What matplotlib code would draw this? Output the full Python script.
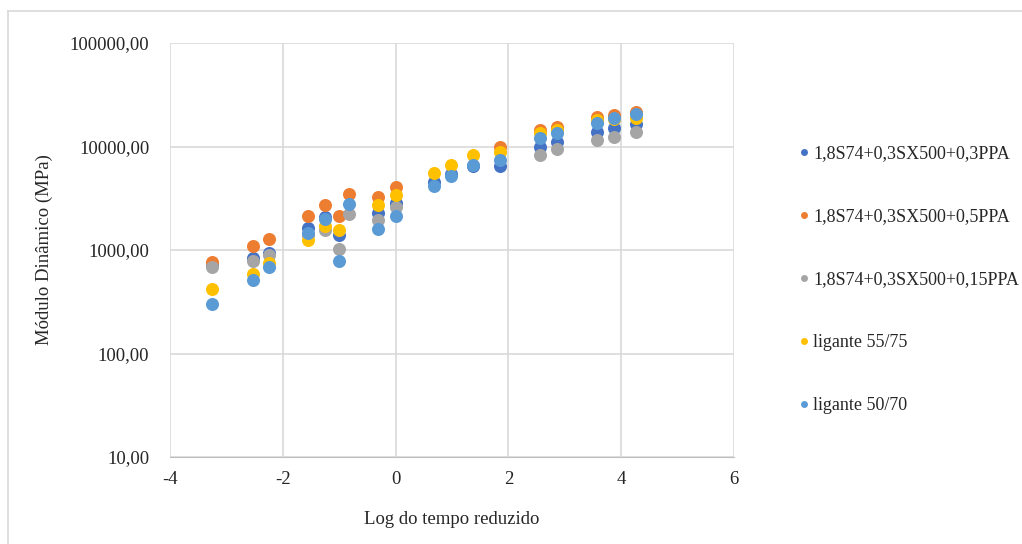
import numpy as np
import matplotlib
matplotlib.use('Agg')
import matplotlib.pyplot as plt
from matplotlib.lines import Line2D

plt.rcParams['font.family'] = ['Liberation Serif', 'DejaVu Serif']
plt.rcParams['axes.unicode_minus'] = False

# Dados
nomes = ['1,8S74+0,3SX500+0,3PPA', '1,8S74+0,3SX500+0,5PPA',
         '1,8S74+0,3SX500+0,15PPA', 'ligante 55/75', 'ligante 50/70']
cores = ['#4472C4', '#ED7D31', '#A5A5A5', '#FFC000', '#5B9BD5']

x_s1 = [-3.26, -2.52, -2.24, -1.55, -1.25, -1.0, -0.31, 0.0, 0.68, 0.98, 1.38, 1.85, 2.56, 2.87, 3.57, 3.88, 4.27]
y_s1 = [720, 830, 940, 1617, 2094, 1393, 2291, 2825, 4570, 5400, 6500, 6490, 9840, 11170, 13960, 15030, 16440]

x_s2 = [-3.26, -2.52, -2.24, -1.55, -1.25, -1.0, -0.835, -0.31, 0.0, 1.85, 2.56, 2.87, 3.57, 3.88, 4.27]
y_s2 = [769, 1091, 1267, 2128, 2700, 2128, 3475, 3273, 4020, 10000, 14490, 15590, 19480, 20230, 21780]

x_s3 = [-3.26, -2.52, -2.24, -1.55, -1.25, -1.0, -0.835, -0.31, 0.0, 2.56, 2.87, 3.57, 3.88, 4.27]
y_s3 = [688, 787, 891, 1400, 1560, 1014, 2212, 1946, 2608, 8290, 9480, 11590, 12470, 13740]

x_s4 = [-3.26, -2.52, -2.24, -1.55, -1.25, -1.0, -0.31, 0.0, 0.68, 0.98, 1.38, 1.85, 2.56, 2.87, 3.57, 3.88, 4.27]
y_s4 = [416, 584, 741, 1247, 1703, 1560, 2722, 3414, 5510, 6640, 8290, 8930, 13450, 14500, 18000, 18370, 18800]

x_s5 = [-3.26, -2.52, -2.24, -1.55, -1.25, -1.0, -0.835, -0.31, 0.0, 0.68, 0.98, 1.38, 1.85, 2.56, 2.87, 3.57, 3.88, 4.27]
y_s5 = [304, 512, 688, 1449, 1977, 786, 2782, 1585, 2144, 4160, 5190, 6640, 7430, 12020, 13450, 16830, 18800, 20690]

xs = [x_s1, x_s2, x_s3, x_s4, x_s5]
ys = [y_s1, y_s2, y_s3, y_s4, y_s5]

texto = '#262626'

fig = plt.figure(figsize=(10.22, 5.44), dpi=100)
ax = fig.add_axes([170 / 1022, 1 - 457 / 544, 564 / 1022, 414 / 544])

for x, y, c, n in zip(xs, ys, cores, nomes):
    ax.scatter(x, y, s=88, color=c, label=n, zorder=3, linewidths=0)

ax.set_yscale('log')
ax.set_ylim(10, 100000)
ax.set_xlim(-4, 6)
ax.set_xticks([-4, -2, 0, 2, 4, 6])
ax.set_yticks([10, 100, 1000, 10000, 100000])
ax.set_yticklabels(['10,00', '100,00', '1000,00', '10000,00', '100000,00'])
ax.yaxis.set_minor_locator(matplotlib.ticker.NullLocator())
ax.grid(True, color='#d9d9d9', linewidth=1.2)
ax.set_axisbelow(True)
for s in ['top', 'right', 'left']:
    ax.spines[s].set_visible(False)
ax.spines['bottom'].set_color('#bfbfbf')
ax.tick_params(axis='both', length=0, labelsize=13.5, colors=texto)
ax.tick_params(axis='y', pad=15)
ax.tick_params(axis='x', pad=10)
ax.set_xlabel('Log do tempo reduzido', fontsize=13.5, color=texto, labelpad=17)
ax.set_ylabel('Módulo Dinâmico (MPa)', fontsize=13.5, color=texto, labelpad=12)

handles = [Line2D([], [], marker='o', linestyle='', markersize=5,
                  markerfacecolor=c, markeredgewidth=0) for c in cores]
fig.legend(handles, nomes, loc='upper left', bbox_to_anchor=(788 / 1022, 1 - 138 / 544),
           frameon=False, fontsize=13, labelspacing=2.55, handletextpad=0.0,
           handlelength=1.0, borderaxespad=0, labelcolor=texto)

# moldura do gráfico
fig.add_artist(Line2D([8 / 1022, 1], [1 - 11 / 544, 1 - 11 / 544], color='#d9d9d9', linewidth=1.2))
fig.add_artist(Line2D([8 / 1022, 8 / 1022], [0, 1 - 11 / 544], color='#d9d9d9', linewidth=1.2))

fig.savefig('out.png', dpi=100)
